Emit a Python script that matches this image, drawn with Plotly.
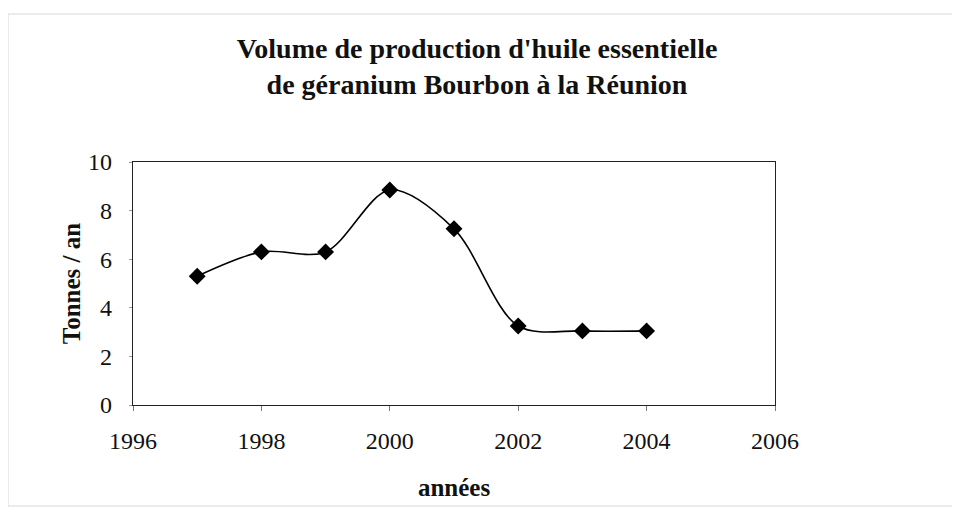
import plotly.graph_objects as go

years = [1997, 1998, 1999, 2000, 2001, 2002, 2003, 2004]
tonnes = [5.3, 6.3, 6.3, 8.85, 7.25, 3.25, 3.05, 3.05]
x_ticks = [1996, 1998, 2000, 2002, 2004, 2006]
y_ticks = [0, 2, 4, 6, 8, 10]

SERIF = "Liberation Serif, Times New Roman, serif"
H = 523
W = 960

fig = go.Figure()
fig.add_trace(go.Scatter(
    x=years, y=tonnes, mode="lines+markers",
    line=dict(color="black", width=1.6, shape="spline", smoothing=0.9),
    marker=dict(symbol="diamond", size=13, color="black"),
    showlegend=False,
))

fig.update_layout(
    width=W, height=H,
    margin=dict(l=125, r=193, t=154, b=126),
    paper_bgcolor="white", plot_bgcolor="white",
    title=dict(
        text="<b>Volume de production d'huile essentielle<br>de géranium Bourbon à la Réunion</b>",
        x=0.5 - 11/W, xref="container", xanchor="center",
        y=1 - 50/H, yref="container", yanchor="top",
        font=dict(family=SERIF, size=28, color="#111"),
    ),
    xaxis=dict(
        range=[1996, 2006], tickvals=x_ticks, ticktext=[str(v) for v in x_ticks],
        showgrid=False, zeroline=False,
        showline=True, linecolor="#222", linewidth=1.2, mirror=True,
        ticks="outside", ticklen=5, tickcolor="#777",
        ticklabelstandoff=9,
        tickfont=dict(family=SERIF, size=24, color="#111"),
        title=dict(text="<b>années</b>", font=dict(family=SERIF, size=25, color="#111"), standoff=25),
    ),
    yaxis=dict(
        range=[0, 10], tickvals=y_ticks,
        showgrid=False, zeroline=False,
        showline=True, linecolor="#222", linewidth=1.2, mirror=True,
        ticks="outside", ticklen=3, tickcolor="#999",
        ticklabelstandoff=12,
        tickfont=dict(family=SERIF, size=24, color="#111"),
        title=dict(text="<b>Tonnes / an</b>", font=dict(family=SERIF, size=25, color="#111"), standoff=0),
    ),
    shapes=[dict(
        type="rect", xref="paper", yref="paper",
        x0=(8 - 133) / 642, x1=(958 - 133) / 642,
        y0=(405 - 506) / 243, y1=(405 - 14) / 243,
        line=dict(color="#d8d8d8", width=1), fillcolor="rgba(0,0,0,0)", layer="below",
    )],
)

fig.write_html("out.html")
